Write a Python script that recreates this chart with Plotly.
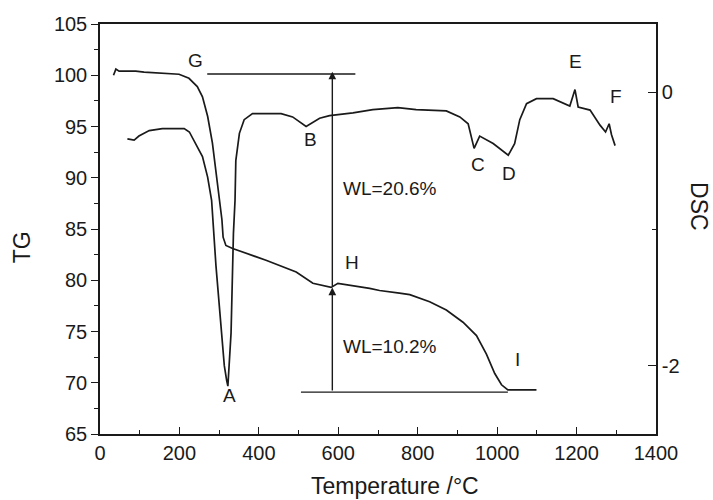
import plotly.graph_objects as go

# TG curve (temperature °C, TG %)
tg_temp = [34, 40, 48, 90, 111, 166, 199, 224, 245, 258, 271, 283, 292, 300, 307, 310, 317, 334,
           418, 494, 536, 582, 599, 679, 704, 754, 780, 830, 872, 914, 948, 973, 994, 1011, 1027, 1099]
tg_val = [100.0, 100.6, 100.4, 100.4, 100.3, 100.2, 100.1, 99.7, 98.9, 97.9, 96.0, 93.4, 90.4, 87.8,
          85.9, 84.2, 83.4, 83.1, 81.95, 80.8, 79.7, 79.3, 79.7, 79.2, 79.0, 78.75, 78.6, 77.9, 77.1,
          75.9, 74.6, 72.8, 70.9, 69.8, 69.3, 69.3]

# DSC curve (temperature °C, DSC)
dsc_temp = [69, 86, 98, 124, 157, 212, 225, 241, 258, 271, 281, 292, 305, 313, 319, 322, 330, 336,
            340, 342, 351, 363, 384, 456, 485, 519, 553, 578, 637, 687, 750, 796, 872, 906, 927,
            942, 956, 990, 1028, 1044, 1057, 1074, 1099, 1141, 1183, 1196, 1204, 1234, 1259, 1273,
            1282, 1288, 1297]
dsc_val = [-0.34, -0.35, -0.32, -0.28, -0.265, -0.265, -0.29, -0.375, -0.47, -0.62, -0.79, -1.27,
           -1.76, -2.0, -2.11, -2.15, -1.76, -1.03, -0.79, -0.50, -0.30, -0.20, -0.156, -0.156,
           -0.18, -0.25, -0.19, -0.17, -0.15, -0.126, -0.112, -0.126, -0.136, -0.18, -0.23, -0.41,
           -0.32, -0.375, -0.46, -0.375, -0.20, -0.083, -0.046, -0.046, -0.10, 0.02, -0.107, -0.13,
           -0.24, -0.29, -0.23, -0.31, -0.39]

# DSC axis ticks
dsc_tick_vals = [0, -2]
dsc_tick_text = ["0", "-2"]
dsc_minor_vals = [-1]

# reference lines for weight loss
top_line_x = [270, 643]
top_line_y = [100.12, 100.12]
base_line_x = [506, 1027]
base_line_y = [69.09, 69.09]
arrow_x = 585
arrow_levels = [69.09, 79.3, 100.35]

# point labels (placed in TG coordinates)
label_text = ["G", "A", "B", "C", "D", "E", "F", "H", "I", "WL=20.6%", "WL=10.2%"]
label_x = [241, 325, 531, 952, 1029, 1197, 1299, 634, 1050, 729, 729]
label_y = [101.4, 68.8, 93.7, 91.3, 90.4, 101.3, 97.9, 81.7, 72.3, 89.0, 73.5]

FONT = "Liberation Sans, Arial, sans-serif"
INK = "#1a1a1a"

fig = go.Figure()
fig.add_trace(go.Scatter(x=tg_temp, y=tg_val, mode="lines",
                         line=dict(color=INK, width=1.7), showlegend=False))
fig.add_trace(go.Scatter(x=dsc_temp, y=dsc_val, mode="lines", yaxis="y2",
                         line=dict(color=INK, width=1.7), showlegend=False))
fig.add_trace(go.Scatter(x=top_line_x, y=top_line_y, mode="lines",
                         line=dict(color=INK, width=1.4), showlegend=False))
fig.add_trace(go.Scatter(x=base_line_x, y=base_line_y, mode="lines",
                         line=dict(color=INK, width=1.4), showlegend=False))

annotations = []
for i in range(len(arrow_levels) - 1):
    annotations.append(dict(x=arrow_x, y=arrow_levels[i + 1], ax=arrow_x, ay=arrow_levels[i],
                            xref="x", yref="y", axref="x", ayref="y", text="",
                            showarrow=True, arrowhead=2, arrowsize=1.1, arrowwidth=1.4,
                            arrowcolor=INK))
for t, x, y in zip(label_text, label_x, label_y):
    annotations.append(dict(x=x, y=y, xref="x", yref="y", text=t, showarrow=False,
                            font=dict(family=FONT, size=19, color=INK),
                            xanchor="center", yanchor="middle"))
annotations += [
    dict(x=-0.140, y=0.456, xref="paper", yref="paper", text="TG", textangle=-90,
         showarrow=False, font=dict(family=FONT, size=23, color=INK),
         xanchor="center", yanchor="middle"),
    dict(x=1.077, y=0.554, xref="paper", yref="paper", text="DSC", textangle=90,
         showarrow=False, font=dict(family=FONT, size=23, color=INK),
         xanchor="center", yanchor="middle"),
    dict(x=0.531, y=-0.128, xref="paper", yref="paper", text="Temperature /°C",
         showarrow=False, font=dict(family=FONT, size=23, color=INK),
         xanchor="center", yanchor="middle"),
]

fig.update_layout(
    width=713, height=500,
    margin=dict(l=100, r=57, t=24, b=66),
    paper_bgcolor="white", plot_bgcolor="white",
    font=dict(family=FONT, size=20, color=INK),
    xaxis=dict(range=[0, 1400], dtick=200, tick0=0, showgrid=False, zeroline=False,
               showline=True, linecolor=INK, linewidth=1.5, mirror=True,
               ticks="inside", ticklen=7, tickwidth=1.3, tickcolor=INK,
               minor=dict(dtick=100, ticks="inside", ticklen=4, tickwidth=1.3, tickcolor=INK),
               tickfont=dict(size=20)),
    yaxis=dict(range=[65, 105], dtick=5, tick0=65, showgrid=False, zeroline=False,
               showline=True, linecolor=INK, linewidth=1.5,
               ticks="outside", ticklen=7, tickwidth=1.3, tickcolor=INK,
               minor=dict(dtick=2.5, ticks="outside", ticklen=4, tickwidth=1.3, tickcolor=INK),
               tickfont=dict(size=20)),
    yaxis2=dict(range=[-2.5, 0.5], overlaying="y", side="right",
                tickmode="array", tickvals=dsc_tick_vals, ticktext=dsc_tick_text,
                showgrid=False, zeroline=False, showline=True, linecolor=INK, linewidth=1.5,
                ticks="inside", ticklen=8, tickwidth=1.3, tickcolor=INK,
                minor=dict(tickmode="array", tickvals=dsc_minor_vals, ticks="inside",
                           ticklen=4, tickwidth=1.3, tickcolor=INK),
                tickfont=dict(size=20)),
    annotations=annotations,
)

# remove the default page margin so the 713x500 figure fills the window exactly
fig.write_html("out.html",
               config={"displayModeBar": False},
               post_script="document.body.style.margin='0';document.body.style.overflow='hidden';")
